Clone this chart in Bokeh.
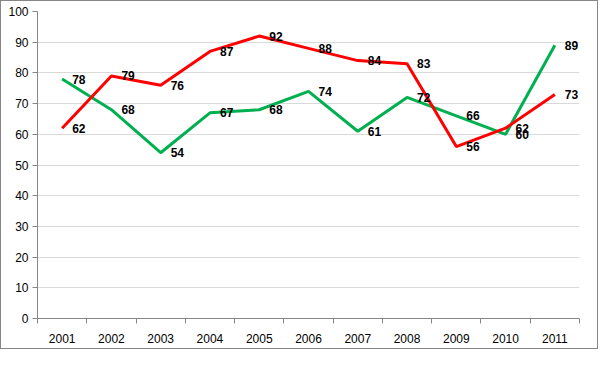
from bokeh.plotting import figure
from bokeh.models import FixedTicker, Range1d, ColumnDataSource, LabelSet
from bokeh.core.properties import value
from bokeh.embed import file_html
from bokeh.resources import INLINE

years = ["2001", "2002", "2003", "2004", "2005", "2006", "2007", "2008", "2009", "2010", "2011"]
red_values = [62, 79, 76, 87, 92, 88, 84, 83, 56, 62, 73]
green_values = [78, 68, 54, 67, 68, 74, 61, 72, 66, 60, 89]
y_ticks = [0, 10, 20, 30, 40, 50, 60, 70, 80, 90, 100]

xs = list(range(1, len(years) + 1))

p = figure(width=598, height=349, output_backend="svg", toolbar_location=None,
           x_range=Range1d(0.5, len(years) + 0.5), y_range=Range1d(0, 100),
           min_border_left=36, min_border_right=20, min_border_top=10, min_border_bottom=32)
p.styles = {"border": "1px solid #868686", "box-sizing": "border-box"}
p.outline_line_color = None
p.background_fill_color = "white"

p.xaxis.ticker = FixedTicker(ticks=xs, minor_ticks=[x - 0.5 for x in xs] + [len(xs) + 0.5])
p.xaxis.major_label_overrides = {x: y for x, y in zip(xs, years)}
p.xaxis.major_tick_line_color = None
p.xaxis.minor_tick_line_color = "#868686"
p.xaxis.minor_tick_in = 0
p.xaxis.minor_tick_out = 5
p.xaxis.axis_line_color = "#868686"
p.xaxis.major_label_standoff = 9

p.yaxis.ticker = FixedTicker(ticks=y_ticks)
p.yaxis.minor_tick_line_color = None
p.yaxis.major_tick_line_color = "#868686"
p.yaxis.major_tick_in = 0
p.yaxis.major_tick_out = 5
p.yaxis.axis_line_color = "#868686"
p.yaxis.major_label_standoff = 4

for ax in (p.xaxis, p.yaxis):
    ax.major_label_text_font = "Liberation Sans"
    ax.major_label_text_font_size = "12px"
    ax.major_label_text_color = "#000000"

p.xgrid.grid_line_color = None
p.ygrid.ticker = FixedTicker(ticks=y_ticks)
p.ygrid.grid_line_color = "#d9d9d9"

src = ColumnDataSource(dict(x=xs, red=red_values, green=green_values,
                            red_lbl=[str(v) for v in red_values],
                            green_lbl=[str(v) for v in green_values]))

p.line("x", "green", source=src, line_color="#00b050", line_width=3)
p.line("x", "red", source=src, line_color="#ff0000", line_width=3)

for col, lbl in (("green", "green_lbl"), ("red", "red_lbl")):
    ls = LabelSet(x="x", y=col, text=lbl, source=src, x_offset=10, y_offset=0,
                  text_font=value("Liberation Sans"), text_font_style="bold",
                  text_font_size="12px", text_color="#000000",
                  text_baseline="middle", text_align="left")
    p.add_layout(ls)

open("out.html", "w").write(file_html(p, INLINE))
